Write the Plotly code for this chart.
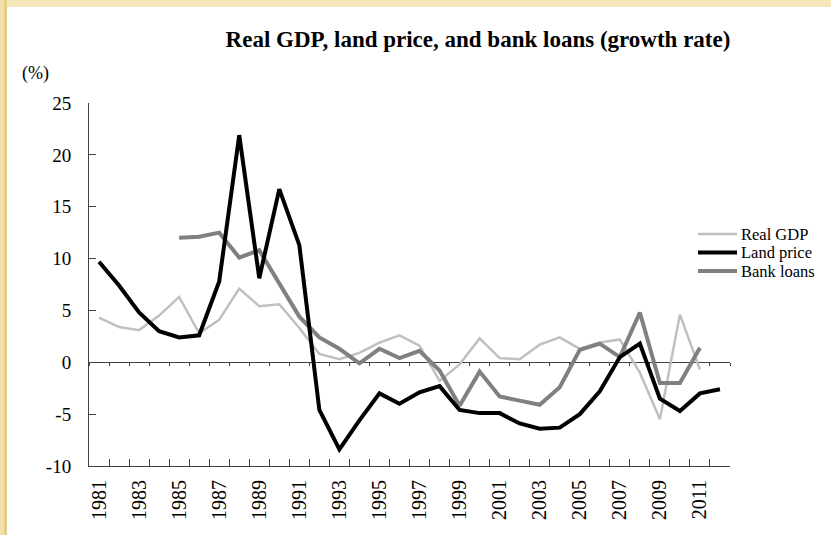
import plotly.graph_objects as go

years = [str(y) for y in range(1981, 2013)]
year_labels = [y if (int(y) - 1981) % 2 == 0 else "" for y in years]
y_ticks = [-10, -5, 0, 5, 10, 15, 20, 25]
y_tick_labels = [str(v) for v in y_ticks]  # plain hyphen minus

real_gdp = [4.3, 3.4, 3.1, 4.5, 6.3, 2.8, 4.1, 7.1, 5.4, 5.6, 3.3, 0.8, 0.3, 0.9,
            1.9, 2.6, 1.6, -1.8, -0.2, 2.3, 0.4, 0.3, 1.7, 2.4, 1.3, 1.9, 2.2,
            -1.0, -5.5, 4.6, -0.7, None]
land_price = [9.7, 7.4, 4.8, 3.0, 2.4, 2.6, 7.8, 21.9, 8.1, 16.7, 11.3, -4.6,
              -8.4, -5.6, -3.0, -4.0, -2.9, -2.3, -4.6, -4.9, -4.9, -5.9, -6.4,
              -6.3, -5.0, -2.8, 0.5, 1.8, -3.5, -4.7, -3.0, -2.6]
bank_loans = [None, None, None, None, 12.0, 12.1, 12.5, 10.1, 10.8, 7.6, 4.4,
              2.4, 1.3, -0.1, 1.3, 0.4, 1.1, -0.8, -4.2, -0.9, -3.3, -3.7,
              -4.1, -2.4, 1.2, 1.8, 0.5, 4.8, -2.0, -2.0, 1.4, None]

series = [
    ("Real GDP", real_gdp, "#c0c0c0", 2.5),
    ("Land price", land_price, "#000000", 4),
    ("Bank loans", bank_loans, "#808080", 4),
]

W, H = 831, 535
ML, MR, MT, MB = 89, 101, 103, 69
PW, PH = W - ML - MR, H - MT - MB
FONT = "Liberation Serif, Times New Roman, serif"


def px(x):
    return (x - ML) / PW


def py(y):
    return (H - MB - y) / PH


fig = go.Figure()
# invisible helper trace for the axis drawn at zero
fig.add_trace(go.Scatter(x=years, y=land_price, xaxis="x2", mode="lines",
                         opacity=0, hoverinfo="skip", showlegend=False))
for name, vals, col, w in [series[0], series[2], series[1]]:
    fig.add_trace(go.Scatter(x=years, y=vals, name=name, mode="lines",
                             line=dict(color=col, width=w), showlegend=False,
                             connectgaps=False))

axis_col = "#404040"
fig.update_layout(
    width=W, height=H,
    margin=dict(l=ML, r=MR, t=MT, b=MB, pad=0),
    paper_bgcolor="white", plot_bgcolor="white",
    font=dict(family=FONT, size=18, color="black"),
    title=dict(text="<b>Real GDP, land price, and bank loans (growth rate)</b>",
               x=px(478), xref="paper", xanchor="center",
               y=1 - 39 / H, yref="container", yanchor="middle",
               font=dict(family=FONT, size=23, color="black")),
    xaxis=dict(type="category", categoryorder="array", categoryarray=years,
               range=[-0.5, len(years) - 0.5],
               tickmode="array", tickvals=years, ticktext=year_labels,
               tickson="boundaries", ticks="inside", ticklen=7, tickwidth=1,
               tickcolor=axis_col, showline=True, linecolor=axis_col,
               linewidth=1, showgrid=False, zeroline=False, tickangle=-90,
               ticklabelstandoff=5, tickfont=dict(size=20)),
    xaxis2=dict(type="category", categoryorder="array", categoryarray=years,
                range=[-0.5, len(years) - 0.5], overlaying="x",
                anchor="free", position=10 / 35, side="bottom",
                tickmode="array", tickvals=years, ticktext=[""] * len(years),
                tickson="boundaries", ticks="outside", ticklen=3,
                tickcolor=axis_col, showline=True, linecolor=axis_col,
                linewidth=1, showgrid=False, zeroline=False,
                showticklabels=False, layer="below traces"),
    yaxis=dict(range=[-10, 25], tickmode="array", tickvals=y_ticks,
               ticktext=y_tick_labels, ticks="inside", ticklen=7,
               tickcolor=axis_col, showline=True, linecolor=axis_col,
               linewidth=1, showgrid=False, zeroline=False,
               ticklabelstandoff=13, tickfont=dict(size=19)),
)

shapes = [
    # decorative page border strips
    dict(type="rect", xref="paper", yref="paper", x0=px(0), x1=px(4),
         y0=py(H), y1=py(0), fillcolor="#f1e0aa", line=dict(width=0),
         layer="below"),
    dict(type="rect", xref="paper", yref="paper", x0=px(4), x1=px(7),
         y0=py(H), y1=py(0), fillcolor="#e6cd8a", line=dict(width=0),
         layer="below"),
    dict(type="rect", xref="paper", yref="paper", x0=px(7), x1=px(W),
         y0=py(7), y1=py(0), fillcolor="#f6e7bb", line=dict(width=0),
         layer="below"),
]
annotations = [
    dict(text="(%)", xref="paper", yref="paper", x=px(35), y=py(73),
         xanchor="center", yanchor="middle", showarrow=False,
         font=dict(family=FONT, size=18)),
]
legend_rows = [234, 252.5, 271]
for (name, vals, col, w), ry in zip(series, legend_rows):
    shapes.append(dict(type="line", xref="paper", yref="paper",
                       x0=px(698), x1=px(737), y0=py(ry), y1=py(ry),
                       line=dict(color=col, width=w)))
    annotations.append(dict(text=name, xref="paper", yref="paper",
                            x=px(739), y=py(ry), xanchor="left",
                            yanchor="middle", showarrow=False,
                            font=dict(family=FONT, size=16.5)))
fig.update_layout(shapes=shapes, annotations=annotations)

fig.write_html("out.html")
